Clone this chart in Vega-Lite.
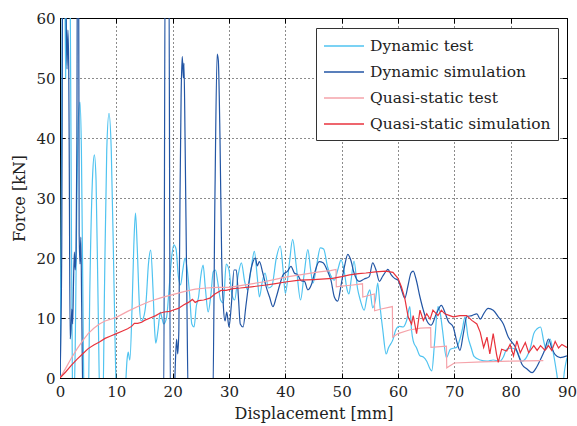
{
  "$schema": "https://vega.github.io/schema/vega-lite/v6.json",
  "width": 507,
  "height": 360,
  "autosize": "none",
  "padding": {"left": 60, "top": 18, "right": 10, "bottom": 48},
  "config": {
    "font": "DejaVu Serif",
    "view": {"stroke": "black", "strokeWidth": 1},
    "axis": {
      "labelFont": "DejaVu Serif", "labelFontSize": 15, "labelColor": "#222", "labelFlush": false,
      "titleFont": "DejaVu Serif", "titleFontSize": 16, "titleFontWeight": "normal", "titleColor": "#222",
      "domainColor": "black", "tickColor": "black", "tickSize": -5, "tickWidth": 1,
      "gridColor": "black", "gridDash": [1, 3], "gridOpacity": 0.9, "gridWidth": 1
    },
    "legend": {
      "orient": "none", "legendX": 256, "legendY": 10,
      "strokeColor": "#333", "fillColor": "white", "padding": 7,
      "symbolType": "M-1,0H3", "symbolSize": 400, "symbolStrokeWidth": 1.5,
      "labelFont": "DejaVu Serif", "labelFontSize": 15.5, "labelColor": "#222", "labelLimit": 400,
      "rowPadding": 6, "labelOffset": 25
    }
  },
  "datasets": {
    "dt": [
      {"x":0,"y":0},{"x":0.3,"y":40},{"x":0.5,"y":75},{"x":0.8,"y":75},{"x":1.0,"y":50},{"x":1.2,"y":70},{"x":1.5,"y":75},{"x":1.8,"y":65},{"x":2.0,"y":30},{"x":2.2,"y":0},{"x":2.4,"y":-5},{"x":2.7,"y":5},{"x":3.0,"y":30},{"x":3.3,"y":44},{"x":3.55,"y":46},{"x":3.8,"y":38},{"x":4.1,"y":10},{"x":4.3,"y":-5},{"x":5.0,"y":-5},{"x":5.3,"y":15},{"x":5.8,"y":34},{"x":6.1,"y":37.2},{"x":6.4,"y":33},{"x":6.8,"y":10},{"x":7.1,"y":-5},{"x":7.6,"y":-5},{"x":7.9,"y":15},{"x":8.3,"y":38},{"x":8.7,"y":44.1},{"x":9.1,"y":38},{"x":9.6,"y":15},{"x":10.0,"y":-2},{"x":10.5,"y":-5},{"x":11.5,"y":-3},{"x":11.9,"y":3},{"x":12.1,"y":4.3},{"x":12.4,"y":3},{"x":12.8,"y":12},{"x":13.1,"y":22},{"x":13.4,"y":27.5},{"x":13.7,"y":22},{"x":14.1,"y":12},{"x":14.4,"y":9.5},{"x":14.8,"y":10},{"x":15.3,"y":13},{"x":15.7,"y":19},{"x":16.1,"y":21.3},{"x":16.5,"y":15},{"x":16.8,"y":8},{"x":17.0,"y":5.8},{"x":17.4,"y":8},{"x":17.8,"y":11},{"x":18.1,"y":10},{"x":18.4,"y":9},{"x":18.9,"y":10},{"x":19.3,"y":14},{"x":19.8,"y":20},{"x":20.2,"y":22.2},{"x":20.6,"y":21.5},{"x":21.0,"y":17},{"x":21.4,"y":15.5},{"x":21.8,"y":18},{"x":22.2,"y":20},{"x":22.6,"y":18},{"x":23.0,"y":14},{"x":23.4,"y":9},{"x":23.8,"y":8.5},{"x":24.2,"y":12},{"x":24.6,"y":13.5},{"x":25.0,"y":17},{"x":25.4,"y":18.8},{"x":25.8,"y":15},{"x":26.3,"y":11},{"x":26.8,"y":14},{"x":27.2,"y":17.7},{"x":27.6,"y":18},{"x":28.0,"y":16},{"x":28.5,"y":13},{"x":29.0,"y":12.5},{"x":29.5,"y":19},{"x":30.0,"y":18},{"x":30.5,"y":14},{"x":31.0,"y":13},{"x":31.6,"y":17},{"x":32.2,"y":19.2},{"x":32.8,"y":16},{"x":33.3,"y":14.7},{"x":33.9,"y":18},{"x":34.5,"y":21.1},{"x":35.0,"y":17},{"x":35.4,"y":13.5},{"x":35.9,"y":16},{"x":36.4,"y":17.5},{"x":37.0,"y":15},{"x":37.6,"y":15.3},{"x":38.4,"y":20},{"x":39.1,"y":22},{"x":39.6,"y":18},{"x":40.0,"y":14.1},{"x":40.7,"y":19},{"x":41.3,"y":23.1},{"x":41.9,"y":19},{"x":42.7,"y":13},{"x":43.3,"y":17},{"x":44.0,"y":21.4},{"x":44.5,"y":18},{"x":44.9,"y":15.8},{"x":45.6,"y":19},{"x":46.2,"y":21.7},{"x":46.8,"y":21.5},{"x":47.5,"y":18.5},{"x":48.1,"y":17},{"x":48.7,"y":16.3},{"x":49.3,"y":18},{"x":49.9,"y":19.7},{"x":50.5,"y":17.5},{"x":50.9,"y":15},{"x":51.3,"y":14},{"x":51.7,"y":16.5},{"x":52.2,"y":19.5},{"x":52.8,"y":15},{"x":53.3,"y":13},{"x":54.0,"y":11.3},{"x":54.5,"y":13.5},{"x":55.0,"y":14.7},{"x":55.5,"y":11.7},{"x":56.0,"y":13},{"x":56.4,"y":15.8},{"x":56.8,"y":12},{"x":57.3,"y":8},{"x":57.9,"y":4},{"x":58.3,"y":5},{"x":59.1,"y":6.4},{"x":59.6,"y":8},{"x":60.2,"y":8.6},{"x":60.9,"y":8.5},{"x":61.5,"y":9.5},{"x":62.1,"y":11.9},{"x":62.4,"y":8},{"x":62.7,"y":6.2},{"x":63.3,"y":5},{"x":63.9,"y":3.7},{"x":64.5,"y":3.5},{"x":65.1,"y":2.8},{"x":65.7,"y":1.5},{"x":66.0,"y":1.2},{"x":66.5,"y":6},{"x":67.1,"y":11.9},{"x":67.5,"y":10.8},{"x":67.9,"y":8},{"x":68.6,"y":3.4},{"x":69.3,"y":4.8},{"x":70.0,"y":5},{"x":70.4,"y":5.1},{"x":70.9,"y":6.2},{"x":71.4,"y":8},{"x":71.9,"y":10.2},{"x":72.4,"y":7},{"x":73.0,"y":5},{"x":73.5,"y":3.6},{"x":74.6,"y":3},{"x":75.8,"y":2.8},{"x":76.9,"y":3},{"x":78.1,"y":2.8},{"x":78.7,"y":3.5},{"x":79.3,"y":4.8},{"x":80.2,"y":5},{"x":81.1,"y":4.5},{"x":82.0,"y":2.8},{"x":82.9,"y":3.6},{"x":83.5,"y":5},{"x":84.1,"y":7.4},{"x":84.7,"y":8.2},{"x":85.3,"y":8.5},{"x":85.9,"y":6},{"x":86.3,"y":4.8},{"x":87.0,"y":6.5},{"x":87.5,"y":4.5},{"x":88.2,"y":0.6},{"x":88.6,"y":-2},{"x":89.1,"y":-2},{"x":89.6,"y":1.5},{"x":90.0,"y":3.4}
    ],
    "ds": [
      {"x":0,"y":0},{"x":0.3,"y":20},{"x":0.5,"y":75},{"x":0.9,"y":75},{"x":1.1,"y":60},{"x":1.25,"y":51.5},{"x":1.4,"y":58},{"x":1.55,"y":52},{"x":1.65,"y":35},{"x":1.8,"y":6.5},{"x":1.95,"y":8},{"x":2.1,"y":11.5},{"x":2.25,"y":9},{"x":2.4,"y":16},{"x":2.55,"y":21},{"x":2.7,"y":18},{"x":2.85,"y":21},{"x":3.0,"y":40},{"x":3.1,"y":75},{"x":3.3,"y":75},{"x":3.4,"y":24},{"x":3.55,"y":19},{"x":3.7,"y":23.5},{"x":3.85,"y":12},{"x":4.1,"y":-5},{"x":18.4,"y":-5},{"x":18.7,"y":75},{"x":19.3,"y":75},{"x":19.6,"y":-5},{"x":20.2,"y":-5},{"x":20.5,"y":3},{"x":20.7,"y":6.5},{"x":20.9,"y":4},{"x":21.1,"y":8},{"x":21.3,"y":30},{"x":21.5,"y":47},{"x":21.7,"y":53.6},{"x":21.9,"y":50},{"x":22.0,"y":52.5},{"x":22.2,"y":40},{"x":22.5,"y":15},{"x":22.8,"y":-5},{"x":27.1,"y":-5},{"x":27.5,"y":30},{"x":27.9,"y":54},{"x":28.1,"y":53},{"x":28.4,"y":40},{"x":28.7,"y":20},{"x":29.0,"y":12},{"x":29.3,"y":9.5},{"x":29.6,"y":11},{"x":30.0,"y":8.5},{"x":30.4,"y":12},{"x":30.9,"y":18},{"x":31.3,"y":18},{"x":31.7,"y":13},{"x":32.0,"y":9},{"x":32.5,"y":8.5},{"x":33.0,"y":12},{"x":33.4,"y":15},{"x":33.7,"y":17},{"x":34.2,"y":19.2},{"x":34.7,"y":20},{"x":35.0,"y":18.7},{"x":35.4,"y":19.4},{"x":36.0,"y":17.5},{"x":36.6,"y":15.2},{"x":37.2,"y":13.5},{"x":37.8,"y":11.9},{"x":38.4,"y":13.5},{"x":39.0,"y":15.5},{"x":39.6,"y":17.2},{"x":40.4,"y":17.8},{"x":41.0,"y":18.6},{"x":41.6,"y":17.5},{"x":42.2,"y":17.2},{"x":42.8,"y":16.2},{"x":43.4,"y":16.1},{"x":44.0,"y":14.7},{"x":44.6,"y":15.5},{"x":45.2,"y":17.5},{"x":46.0,"y":19.4},{"x":46.7,"y":19.2},{"x":47.5,"y":17.8},{"x":48.1,"y":16.3},{"x":48.7,"y":13.5},{"x":49.3,"y":12.8},{"x":49.9,"y":15.5},{"x":50.5,"y":18.6},{"x":51.1,"y":20.6},{"x":51.6,"y":19.7},{"x":52.2,"y":17.5},{"x":53.1,"y":16.1},{"x":54.0,"y":16.5},{"x":54.9,"y":16.9},{"x":55.5,"y":19.2},{"x":56.1,"y":18},{"x":56.7,"y":16.1},{"x":57.3,"y":17},{"x":57.9,"y":17.8},{"x":58.2,"y":18.1},{"x":58.8,"y":17.2},{"x":59.4,"y":16.6},{"x":60.0,"y":16.3},{"x":60.6,"y":14.8},{"x":61.2,"y":13.3},{"x":61.8,"y":15.5},{"x":62.3,"y":17.5},{"x":62.7,"y":17.8},{"x":63.2,"y":16.5},{"x":63.9,"y":13.5},{"x":64.5,"y":11.3},{"x":65.1,"y":9.6},{"x":65.9,"y":8.8},{"x":66.8,"y":10.7},{"x":67.7,"y":12.1},{"x":68.3,"y":11},{"x":68.9,"y":9.5},{"x":69.8,"y":8.5},{"x":70.4,"y":6.2},{"x":71.0,"y":4.6},{"x":71.6,"y":7.4},{"x":72.2,"y":10.2},{"x":73.1,"y":10.4},{"x":74.0,"y":10.7},{"x":74.6,"y":9.8},{"x":75.2,"y":10.7},{"x":76.0,"y":11.6},{"x":76.9,"y":11.3},{"x":77.8,"y":10.2},{"x":78.7,"y":9},{"x":79.6,"y":6.8},{"x":80.2,"y":6},{"x":80.8,"y":5.2},{"x":81.4,"y":3.7},{"x":82.0,"y":2.3},{"x":82.9,"y":1.5},{"x":83.8,"y":0.9},{"x":84.6,"y":1.8},{"x":85.3,"y":3.1},{"x":86.1,"y":4.8},{"x":86.7,"y":6.5},{"x":87.3,"y":5},{"x":87.9,"y":3.9},{"x":88.8,"y":3.4},{"x":90.0,"y":3.7}
    ],
    "qt": [
      {"x":0,"y":0},{"x":1,"y":1.6},{"x":2,"y":3.3},{"x":3,"y":4.8},{"x":4,"y":6.2},{"x":5,"y":7.4},{"x":6,"y":8.3},{"x":7,"y":9},{"x":8,"y":9.5},{"x":10,"y":10.1},{"x":12,"y":11.1},{"x":14,"y":12},{"x":16,"y":12.8},{"x":18,"y":13.4},{"x":20,"y":13.9},{"x":22,"y":14.4},{"x":24,"y":14.8},{"x":26,"y":15},{"x":28,"y":15.1},{"x":30,"y":15.1},{"x":32,"y":15.4},{"x":34,"y":15.7},{"x":36,"y":16},{"x":38,"y":16.4},{"x":40,"y":16.8},{"x":42,"y":17.1},{"x":44,"y":17.4},{"x":46,"y":17.7},{"x":48,"y":17.9},{"x":49.0,"y":18.1},{"x":49.05,"y":15.2},{"x":50,"y":15.3},{"x":52,"y":15.5},{"x":53.7,"y":15.7},{"x":53.75,"y":13.5},{"x":55.8,"y":14},{"x":55.85,"y":11.2},{"x":57,"y":11.5},{"x":59,"y":11.9},{"x":59.05,"y":6.8},{"x":60,"y":7.4},{"x":62,"y":8},{"x":64,"y":8.3},{"x":65.8,"y":8.4},{"x":65.85,"y":5.1},{"x":68.6,"y":5.3},{"x":68.65,"y":1.7},{"x":70,"y":2.5},{"x":75,"y":2.7},{"x":80,"y":2.8},{"x":85.8,"y":2.9}
    ],
    "qs": [
      {"x":0,"y":0},{"x":1,"y":1},{"x":2,"y":2.1},{"x":3,"y":3.1},{"x":4,"y":4},{"x":5,"y":4.9},{"x":6,"y":5.5},{"x":7,"y":6},{"x":8,"y":6.6},{"x":9,"y":7},{"x":10,"y":7.4},{"x":11,"y":7.8},{"x":12,"y":8.2},{"x":12.7,"y":8.6},{"x":13.2,"y":9.1},{"x":13.8,"y":9.1},{"x":14.5,"y":9.3},{"x":15,"y":9.6},{"x":16,"y":10},{"x":17,"y":10.4},{"x":17.7,"y":10.8},{"x":18.5,"y":11},{"x":19.5,"y":11.1},{"x":20,"y":11.3},{"x":21,"y":11.6},{"x":22,"y":12.2},{"x":22.8,"y":12.6},{"x":23.5,"y":13.1},{"x":24,"y":12.6},{"x":24.6,"y":12.9},{"x":25.5,"y":13},{"x":26.6,"y":13.3},{"x":27.5,"y":14},{"x":28.6,"y":14.6},{"x":29.5,"y":14.6},{"x":30.7,"y":14.9},{"x":32,"y":15},{"x":34,"y":15.2},{"x":36.6,"y":15.5},{"x":38,"y":15.7},{"x":40,"y":16},{"x":42.5,"y":16.3},{"x":45,"y":16.4},{"x":48.4,"y":16.6},{"x":50,"y":16.9},{"x":51.4,"y":17.2},{"x":53,"y":17.4},{"x":54.3,"y":17.5},{"x":56,"y":17.7},{"x":57.8,"y":17.8},{"x":59.1,"y":17.6},{"x":60,"y":16.6},{"x":60.6,"y":15.2},{"x":61.2,"y":13.3},{"x":61.8,"y":10.2},{"x":62.4,"y":9},{"x":62.7,"y":10.4},{"x":63.3,"y":7.4},{"x":63.9,"y":11.3},{"x":64.5,"y":9.6},{"x":65.1,"y":10.7},{"x":65.7,"y":9.8},{"x":66.2,"y":11.3},{"x":67.1,"y":10.4},{"x":67.7,"y":11.3},{"x":68.3,"y":10.7},{"x":69.2,"y":10.4},{"x":69.8,"y":10.2},{"x":71,"y":10.4},{"x":72.2,"y":10.4},{"x":73.1,"y":9.6},{"x":74,"y":9},{"x":74.6,"y":7.6},{"x":75.2,"y":5.1},{"x":75.8,"y":6.8},{"x":76.3,"y":4},{"x":76.9,"y":7.4},{"x":77.5,"y":3.9},{"x":77.8,"y":2.6},{"x":78.4,"y":4.8},{"x":79.3,"y":4.5},{"x":79.9,"y":5.6},{"x":80.5,"y":3.7},{"x":81.1,"y":6.2},{"x":81.7,"y":4.2},{"x":82.6,"y":5.9},{"x":83.2,"y":4.2},{"x":84.1,"y":5.4},{"x":84.7,"y":4.6},{"x":85.3,"y":5.4},{"x":86.1,"y":4.6},{"x":86.7,"y":5.4},{"x":87.3,"y":4.6},{"x":87.9,"y":6.1},{"x":88.5,"y":5},{"x":89.1,"y":5.6},{"x":90,"y":5.1}
    ]
  },
  "resolve": {"axis": {"x": "independent", "y": "independent"}},
  "layer": [
    {
      "data": {"name": "dt"},
      "mark": {"type": "line", "clip": true, "strokeWidth": 1.2, "interpolate": "monotone"},
      "encoding": {
        "x": {"field": "x", "type": "quantitative", "scale": {"domain": [0, 90], "nice": false, "zero": false},
              "axis": {"orient": "bottom", "title": "Displacement [mm]", "values": [0,10,20,30,40,50,60,70,80,90], "labelPadding": 11, "titlePadding": 6, "grid": true}},
        "y": {"field": "y", "type": "quantitative", "scale": {"domain": [0, 60], "nice": false, "zero": false},
              "axis": {"orient": "left", "title": "Force [kN]", "values": [0,10,20,30,40,50,60], "labelPadding": 10, "titlePadding": 8, "grid": true}},
        "color": {"datum": "Dynamic test", "type": "nominal",
                  "scale": {"domain": ["Dynamic test", "Dynamic simulation", "Quasi-static test", "Quasi-static simulation"],
                            "range": ["#4fc3f0", "#2255a4", "#f5a3aa", "#e8323c"]},
                  "legend": {"title": null}}
      }
    },
    {
      "data": {"name": "ds"},
      "mark": {"type": "line", "clip": true, "strokeWidth": 1.2, "interpolate": "monotone"},
      "encoding": {
        "x": {"field": "x", "type": "quantitative", "axis": null},
        "y": {"field": "y", "type": "quantitative", "axis": null},
        "color": {"datum": "Dynamic simulation", "type": "nominal"}
      }
    },
    {
      "data": {"name": "qt"},
      "mark": {"type": "line", "clip": true, "strokeWidth": 1.2},
      "encoding": {
        "x": {"field": "x", "type": "quantitative", "axis": null},
        "y": {"field": "y", "type": "quantitative", "axis": null},
        "color": {"datum": "Quasi-static test", "type": "nominal"}
      }
    },
    {
      "data": {"name": "qs"},
      "mark": {"type": "line", "clip": true, "strokeWidth": 1.2},
      "encoding": {
        "x": {"field": "x", "type": "quantitative", "axis": {"orient": "top", "title": null, "labels": false, "grid": false, "values": [0,10,20,30,40,50,60,70,80,90]}},
        "y": {"field": "y", "type": "quantitative", "axis": {"orient": "right", "title": null, "labels": false, "grid": false, "values": [0,10,20,30,40,50,60]}},
        "color": {"datum": "Quasi-static simulation", "type": "nominal"}
      }
    }
  ]
}
